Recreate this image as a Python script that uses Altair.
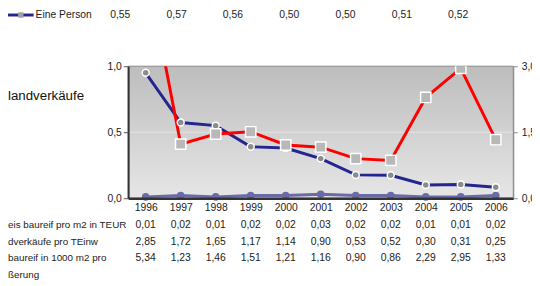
import altair as alt
import pandas as pd

# ---------------- data ----------------
years = [str(y) for y in range(1996, 2007)]
preis = [0.01, 0.02, 0.01, 0.02, 0.02, 0.03, 0.02, 0.02, 0.01, 0.01, 0.02]
verkaeufe = [2.85, 1.72, 1.65, 1.17, 1.14, 0.90, 0.53, 0.52, 0.30, 0.31, 0.25]
flaeche = [5.34, 1.23, 1.46, 1.51, 1.21, 1.16, 0.90, 0.86, 2.29, 2.95, 1.33]
top_values = [0.55, 0.57, 0.56, 0.50, 0.50, 0.51, 0.52]
row_labels = ["eis baureif pro m2 in TEUR", "dverkäufe pro TEinw",
              "baureif in 1000 m2 pro", "ßerung"]
title_fragment = "landverkäufe"
legend_label = "Eine Person"

W, H = 391, 134
FONT = "Liberation Sans"
NAVY = "#25258f"
RED = "#ff0000"
PURPLE = "#6a6aa6"


def de(v):
    return f"{v:.2f}".replace(".", ",")


df = pd.DataFrame({"year": years, "preis": preis, "verk": verkaeufe, "flaeche": flaeche})
df["preis_t"] = [de(v) for v in preis]
df["verk_t"] = [de(v) for v in verkaeufe]
df["flaeche_t"] = [de(v) for v in flaeche]

top_df = pd.DataFrame({"idx": list(range(len(top_values))), "t": [de(v) for v in top_values]})
one = pd.DataFrame({"a": [0]})

label_expr = "replace(format(datum.value, '.1f'), '.', ',')"

x_enc = alt.X(
    "year:O",
    scale=alt.Scale(type="point", padding=0.5),
    axis=alt.Axis(title=None, ticks=False, domainColor="#333333", domainWidth=2.5,
                  labelPadding=4, labelFontSize=10.5, labelColor="#222222",
                  labelFont=FONT, labelAngle=0, grid=False, zindex=1),
)

base = alt.Chart(df)

# background gradient of the plot area
bg = alt.Chart(one).mark_rect(
    color=alt.LinearGradient(gradient="linear",
                             stops=[alt.GradientStop(color="#bdbdbd", offset=0),
                                    alt.GradientStop(color="#e6e6e6", offset=1)],
                             x1=0, x2=0, y1=0, y2=1),
    stroke="#888888", strokeWidth=1,
).encode(x=alt.value(0), x2=alt.value(W), y=alt.value(0), y2=alt.value(H))

# left axis series (Preis)
y_left = alt.Y(
    "preis:Q",
    scale=alt.Scale(domain=[0, 1]),
    axis=alt.Axis(title=None, orient="left", values=[0, 0.5, 1], labelExpr=label_expr,
                  domainColor="#333333", domainWidth=2, tickColor="#555555", tickSize=5,
                  labelPadding=2, labelFontSize=10.5, labelColor="#222222", labelFont=FONT,
                  grid=False, zindex=1),
)
grid05 = alt.Chart(one).mark_rule(color="#e4e4e4", strokeWidth=1).encode(y=alt.datum(0.5))
purple_line = base.mark_line(color=PURPLE, strokeWidth=3).encode(x=x_enc, y=y_left)
purple_pts = base.mark_point(filled=True, fill=PURPLE, color=PURPLE, size=60, opacity=1).encode(x=x_enc, y=y_left)
left = alt.layer(purple_line, purple_pts, grid05)

# right axis series
right_axis = alt.Axis(title=None, orient="right", values=[0, 1.5, 3], labelExpr=label_expr,
                      domainColor="#888888", domainWidth=1, tickColor="#888888", tickSize=4,
                      labelPadding=4, labelFontSize=10.5, labelColor="#222222", labelFont=FONT,
                      grid=False, zindex=1)
y_verk = alt.Y("verk:Q", scale=alt.Scale(domain=[0, 3]), axis=right_axis)
y_fl = alt.Y("flaeche:Q", scale=alt.Scale(domain=[0, 3]), axis=right_axis)

blue_line = base.mark_line(color=NAVY, strokeWidth=3, clip=True).encode(x=x_enc, y=y_verk)
blue_pts = base.mark_point(shape="circle", filled=True, fill="#8c8c8c", stroke="white",
                           strokeWidth=1.5, size=50, opacity=1, clip=True).encode(x=x_enc, y=y_verk)
red_line = base.mark_line(color=RED, strokeWidth=3, clip=True).encode(x=x_enc, y=y_fl)
red_pts = base.mark_point(shape="square", filled=True, fill="#b8b8b8", stroke="white",
                          strokeWidth=1.5, size=110, opacity=1, clip=True).encode(x=x_enc, y=y_fl)
right = alt.layer(blue_line, red_line, blue_pts, red_pts)

# table texts under the plot
txt = dict(font=FONT, fontSize=10.5, color="#222222", align="center", baseline="middle")
row1 = base.mark_text(**txt).encode(x=x_enc, y=alt.value(161), text="preis_t:N")
row2 = base.mark_text(**txt).encode(x=x_enc, y=alt.value(178), text="verk_t:N")
row3 = base.mark_text(**txt).encode(x=x_enc, y=alt.value(195), text="flaeche_t:N")

lab = dict(font=FONT, fontSize=10, color="#222222", align="left", baseline="middle")
LX = -122
lab1 = alt.Chart(one).mark_text(text=row_labels[0], **lab).encode(x=alt.value(LX), y=alt.value(161))
lab2 = alt.Chart(one).mark_text(text=row_labels[1], **lab).encode(x=alt.value(LX), y=alt.value(178))
lab3 = alt.Chart(one).mark_text(text=row_labels[2], **lab).encode(x=alt.value(LX), y=alt.value(195))
lab4 = alt.Chart(one).mark_text(text=row_labels[3], **lab).encode(x=alt.value(LX), y=alt.value(212))
title_t = alt.Chart(one).mark_text(text=title_fragment, font=FONT, fontSize=13.5, color="#111111",
                                   align="left", baseline="middle").encode(x=alt.value(LX), y=alt.value(30))

main = alt.layer(bg, left, right, row1, row2, row3,
                 lab1, lab2, lab3, lab4, title_t).resolve_scale(y="independent")

# top partial row (legend entry + values of the table above)
leg_line = alt.Chart(one).mark_rule(color=NAVY, strokeWidth=3).encode(
    x=alt.value(-122), x2=alt.value(-96), y=alt.value(-52))
leg_sq = alt.Chart(one).mark_point(shape="square", filled=True, fill="#a0a0a0", size=30, opacity=1).encode(
    x=alt.value(-109), y=alt.value(-52))
leg_txt = alt.Chart(one).mark_text(text=legend_label, font=FONT, fontSize=10.5, color="#222222",
                                   align="left", baseline="middle").encode(x=alt.value(-94), y=alt.value(-52))
top_row = alt.Chart(top_df).mark_text(**txt).encode(
    x=alt.X("idx:Q", scale=alt.Scale(domain=[0, 6], range=[-8, 335]), axis=None),
    y=alt.value(-52), text="t:N")

chart = alt.layer(main, top_row, leg_line, leg_sq, leg_txt).resolve_scale(
    x="independent", y="independent"
).properties(
    width=W, height=H,
    autosize=alt.AutoSizeParams(type="none"),
    padding={"left": 122, "top": 57, "right": 19, "bottom": 87},
    background="white",
).configure_view(stroke=None)

chart.save("out.html", embed_options={"renderer": "svg", "actions": False})
